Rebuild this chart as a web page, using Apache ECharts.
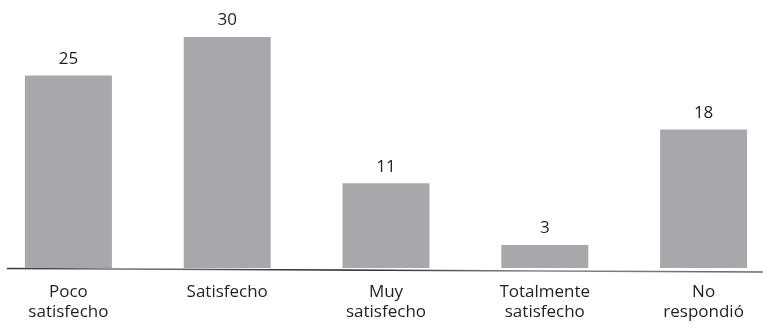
<!DOCTYPE html>
<html>
<head>
<meta charset="utf-8">
<script src="https://cdn.jsdelivr.net/npm/echarts@6/dist/echarts.min.js"></script>
<style>
  html, body { margin: 0; padding: 0; background: #fff; }
  #chart { width: 763px; height: 333px; }
</style>
</head>
<body>
<div id="chart"></div>
<script>
// Nivel de satisfacción
const categories = ['Poco\nsatisfecho', 'Satisfecho', 'Muy\nsatisfecho', 'Totalmente\nsatisfecho', 'No\nrespondió'];
const values = [25, 30, 11, 3, 18];

const FONT = '"Open Sans", Lato, sans-serif';
const TEXT = '#231f20';

const chart = echarts.init(document.getElementById('chart'), null, { renderer: 'canvas' });
chart.setOption({
  animation: false,
  grid: {
    left: -11, width: 794, top: 0, bottom: 65,
    containLabel: false,
    outerBoundsMode: 'none'
  },
  xAxis: {
    type: 'category',
    data: categories,
    axisLine: { show: false },
    axisTick: { show: false },
    axisLabel: {
      margin: 14,
      fontFamily: FONT,
      fontSize: 17,
      lineHeight: 20,
      color: TEXT,
      interval: 0
    }
  },
  yAxis: {
    type: 'value',
    min: 0,
    max: 34.8,
    show: false,
    splitLine: { show: false }
  },
  series: [{
    type: 'bar',
    data: values,
    barWidth: 87,
    itemStyle: { color: '#a7a8ab' },
    label: {
      show: true,
      position: 'top',
      distance: 8,
      fontFamily: FONT,
      fontSize: 17,
      color: TEXT
    }
  }],
  graphic: [{
    type: 'line',
    shape: { x1: 7, y1: 268.5, x2: 763, y2: 272 },
    style: {
      lineWidth: 1.3,
      stroke: {
        type: 'linear', x: 0, y: 0, x2: 1, y2: 0,
        colorStops: [
          { offset: 0, color: '#333' },
          { offset: 0.15, color: '#777' },
          { offset: 0.45, color: '#222' },
          { offset: 0.7, color: '#888' },
          { offset: 1, color: '#666' }
        ]
      }
    }
  }]
});
</script>
</body>
</html>
